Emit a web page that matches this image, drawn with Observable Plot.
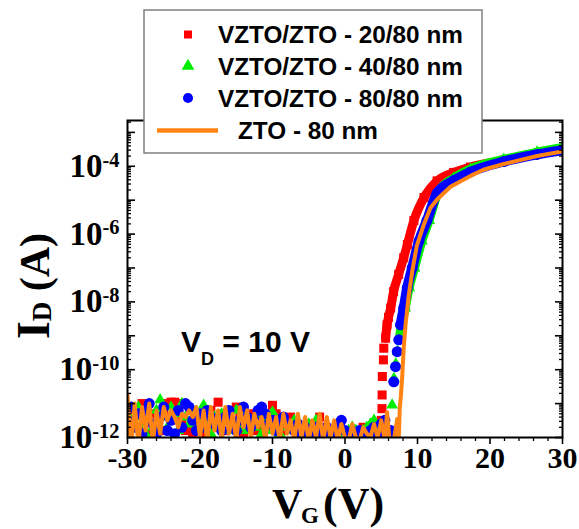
<!DOCTYPE html>
<html><head><meta charset="utf-8">
<script src="https://cdn.jsdelivr.net/npm/d3@7"></script>
<script src="https://cdn.jsdelivr.net/npm/@observablehq/plot@0.6"></script>
<style>body{margin:0;background:#fff} #c{position:relative;width:579px;height:529px;overflow:hidden}</style>
</head><body><div id="c"></div><script>
// Gate voltage sweep (off-state region), V
const vgOff = [-30,-29.5,-29,-28.5,-28,-27.5,-27,-26.5,-26,-25.5,-25,-24.5,-24,-23.5,-23,-22.5,-22,-21.5,-21,-20.5,-20,-19.5,-19,-18.5,-18,-17.5,-17,-16.5,-16,-15.5,-15,-14.5,-14,-13.5,-13,-12.5,-12,-11.5,-11,-10.5,-10,-9.5,-9,-8.5,-8,-7.5,-7,-6.5,-6,-5.5,-5,-4.5,-4,-3.5,-3,-2.5,-2,-1.5,-1,-0.5,0,0.5,1,1.5,2,2.5,3,3.5,4,4.5,5];

// VZTO/ZTO - 20/80 nm (red squares)
const redOff = [1.6e-12,3.2e-12,6.3e-12,2.0e-12,1.0e-11,4.0e-12,1.3e-12,5.0e-12,2.5e-12,1.6e-12,
  6.3e-12,1.0e-11,1.1e-11,1.1e-11,1.0e-11,3.2e-12,1.6e-12,2.0e-12,1.3e-12,5.0e-12,
  2.5e-12,1.3e-12,4.0e-12,6.3e-12,2.0e-12,1.1e-11,5.0e-12,1.6e-12,3.2e-12,2.0e-12,
  7.9e-12,4.0e-12,1.3e-12,2.5e-12,5.0e-12,1.6e-12,3.2e-12,2.0e-12,4.0e-12,2.5e-12,
  8.9e-12,5.0e-12,2.0e-12,1.6e-12,3.2e-12,4.0e-12,2.5e-12,2.0e-12,1.3e-12,2.0e-12,
  2.5e-12,1.6e-12,2.5e-12,4.0e-12,2.0e-12,1.3e-12,1.6e-12,1.3e-12,2.5e-12,1.6e-12,
  1.3e-12,1.0e-12,1.6e-12,1.3e-12,1.6e-12,2.0e-12,1.3e-12,1.6e-12,2.0e-12,2.5e-12,3.2e-12];
const redOnV = [5.1,5.12,5.15,5.3,5.35,5.6,5.8,6.0,6.3,6.7,7.4,8.1,8.6,9.5,10.9,12.7,15,17.3,21.9,26.5,30];
const redOnI = [7.1e-12,1.8e-11,6.3e-11,1.95e-10,4.3e-10,8.5e-10,2.1e-9,3.5e-9,6.6e-9,2.0e-8,6.5e-8,2.0e-7,4.9e-7,2.5e-6,1.2e-5,3.7e-5,6.6e-5,9.5e-5,1.5e-4,2.3e-4,3.15e-4];

// VZTO/ZTO - 40/80 nm (green triangles)
const greenOff = [5.0e-12,2.0e-12,4.0e-12,7.9e-12,2.5e-12,1.3e-12,3.2e-12,2.0e-12,6.3e-12,1.3e-11,
  4.0e-12,2.0e-12,7.9e-12,5.0e-12,1.6e-12,1.0e-11,4.0e-12,2.5e-12,6.3e-12,2.0e-12,
  3.2e-12,8.9e-12,2.5e-12,1.3e-12,4.0e-12,2.0e-12,5.0e-12,3.2e-12,1.6e-12,2.5e-12,
  6.3e-12,2.0e-12,4.0e-12,1.6e-12,3.2e-12,2.0e-12,5.0e-12,1.3e-12,2.5e-12,1.6e-12,
  5.6e-12,2.5e-12,1.3e-12,3.2e-12,2.0e-12,1.6e-12,3.2e-12,1.3e-12,2.0e-12,1.6e-12,
  2.5e-12,1.3e-12,3.2e-12,2.0e-12,1.3e-12,1.6e-12,1.3e-12,2.0e-12,1.3e-12,1.6e-12,
  1.3e-12,1.6e-12,2.0e-12,1.6e-12,1.3e-12,1.6e-12,2.0e-12,2.5e-12,3.2e-12,2.0e-12,1.6e-12];
const greenOnV = [5.5,6,6.5,6.75,7.0,7.25,7.5,7.8,8.3,8.85,9.6,10.6,11.6,12.9,15,17.3,21.9,26.5,30];
const greenOnI = [2.0e-12,1.6e-12,9.1e-12,5.5e-11,1.5e-10,3.4e-10,8.5e-10,2.1e-9,6.6e-9,2.6e-8,1.0e-7,6.2e-7,2.5e-6,1.8e-5,4.5e-5,8.3e-5,1.6e-4,2.6e-4,3.6e-4];

// VZTO/ZTO - 80/80 nm (blue circles)
const blueOff = [3.2e-12,7.9e-12,2.0e-12,5.0e-12,1.3e-12,6.3e-12,1.0e-11,2.5e-12,1.3e-12,4.0e-12,
  7.9e-12,1.6e-12,3.2e-12,1.3e-12,6.3e-12,2.0e-12,1.0e-11,7.9e-12,3.2e-12,1.6e-12,
  5.0e-12,2.0e-12,6.3e-12,4.0e-12,2.5e-12,3.2e-12,1.6e-12,4.0e-12,6.3e-12,2.5e-12,
  1.6e-12,3.2e-12,7.9e-12,4.0e-12,2.0e-12,3.2e-12,6.3e-12,7.9e-12,5.0e-12,2.5e-12,
  3.2e-12,1.6e-12,2.5e-12,4.0e-12,2.5e-12,2.0e-12,1.6e-12,2.5e-12,1.3e-12,2.0e-12,
  1.6e-12,1.3e-12,2.0e-12,1.6e-12,1.3e-12,2.0e-12,1.6e-12,1.3e-12,2.5e-12,3.2e-12,
  1.6e-12,1.3e-12,1.0e-12,1.3e-12,1.6e-12,1.3e-12,1.0e-12,1.6e-12,2.0e-12,1.3e-12,2.5e-12];
const blueOnV = [5.5,6.0,6.3,6.73,6.97,7.2,7.42,7.66,8.1,8.58,9.27,10.2,11.3,12.7,15,17.3,21.9,26.5,30];
const blueOnI = [3.2e-12,1.3e-12,1.6e-12,4.4e-11,1.23e-10,3.4e-10,7.6e-10,2.1e-9,6.6e-9,2.6e-8,1.0e-7,6.2e-7,2.5e-6,1.6e-5,3.8e-5,6.8e-5,1.38e-4,2.24e-4,3.0e-4];

// ZTO - 80 nm (orange line)
const orangeOff = [1.8e-11,5e-13,1.0e-11,6e-13,8.0e-12,1.6e-12,1.0e-11,7e-13,6.3e-12,1.3e-12,
  7.9e-12,3.2e-12,6.3e-12,4.0e-12,2.0e-12,5.0e-12,4.0e-12,6.3e-12,4.0e-12,7.9e-12,
  1.0e-12,6.3e-12,7e-13,7.9e-12,1.6e-12,6.3e-12,8e-13,7.9e-12,1.3e-12,5.0e-12,
  8e-13,7.9e-12,2.0e-12,6.3e-12,1.0e-12,5.0e-12,2.0e-12,4.0e-12,8e-13,5.0e-12,
  1.3e-12,4.0e-12,8e-13,5.0e-12,1.3e-12,3.2e-12,8e-13,5.0e-12,1.0e-12,4.0e-12,
  8e-13,3.2e-12,1.0e-12,5.0e-12,8e-13,4.0e-12,1.0e-12,3.2e-12,8e-13,2.5e-12,
  1.0e-12,8e-13,2.5e-12,1.0e-12,8e-13,2.0e-12,1.3e-12,1.0e-12,2.5e-12,1.0e-12,3.2e-12];
const orangeOnV = [5.5,5.8,6.2,6.8,7.2,7.4,7.55,7.7,7.9,8.1,8.35,8.8,9.27,9.9,10.9,11.8,12.7,14.55,17.3,19.1,21.9,26.5,30];
const orangeOnI = [8e-13,5.6e-12,6e-13,1.0e-12,3.5e-12,6e-13,7.1e-12,1.6e-11,6.9e-11,4.3e-10,2.1e-9,1.6e-8,7.9e-8,4.5e-7,2.0e-6,6.0e-6,1.05e-5,2.5e-5,5.2e-5,7.9e-5,1.17e-4,2.0e-4,2.75e-4];

const seriesNames = ["VZTO/ZTO - 20/80 nm","VZTO/ZTO - 40/80 nm","VZTO/ZTO - 80/80 nm","ZTO - 80 nm"];
const colors = ["#ff0000","#00ee00","#0000ff","#ff8413"];

// axis ticks
const xMajor = [-30,-20,-10,0,10,20,30];
const xMinor = [-28,-26,-24,-22,-18,-16,-14,-12,-8,-6,-4,-2,2,4,6,8,12,14,16,18,22,24,26,28];
const yLabels = [1e-12,1e-10,1e-8,1e-6,1e-4];
const yDecades = [1e-12,1e-11,1e-10,1e-9,1e-8,1e-7,1e-6,1e-5,1e-4,1e-3];
const yMinor = yDecades.flatMap(d => [2,3,4,5,6,7,8,9].map(m => m*d)).filter(v => v < 2.2e-3);

const pts = (v, i) => v.map((x, k) => ({v: x, i: i[k]}));
const red = pts(vgOff, redOff).concat(pts(redOnV, redOnI));
const green = pts(vgOff, greenOff).concat(pts(greenOnV, greenOnI));
const blue = pts(vgOff, blueOff).concat(pts(blueOnV, blueOnI));
const orange = pts(vgOff, orangeOff).concat(pts(orangeOnV, orangeOnI));
const band = d => d.v > 5 && d.i >= 8e-10;

const serif = "Liberation Serif, Times New Roman, serif";
const sans = "Liberation Sans, Arial, sans-serif";

const chart = Plot.plot({
  width: 579, height: 529,
  marginLeft: 127, marginRight: 17, marginTop: 120, marginBottom: 92,
  style: {background: "white", color: "black"},
  x: {domain: [-30, 30]},
  y: {type: "log", domain: [1e-12, 2.24e-3]},
  marks: [
    Plot.line(red.filter(band), {x: "v", y: "i", stroke: colors[0], strokeWidth: 9, curve: "monotone-x", clip: true}),
    Plot.dot(red, {x: "v", y: "i", symbol: "square", r: 5.1, fill: colors[0], clip: true}),
    Plot.line(green.filter(band), {x: "v", y: "i", stroke: colors[1], strokeWidth: 9, curve: "monotone-x", clip: true}),
    Plot.dot(green, {x: "v", y: "i", symbol: "triangle", r: 4.4, fill: colors[1], clip: true}),
    Plot.line(blue.filter(band), {x: "v", y: "i", stroke: colors[2], strokeWidth: 10, curve: "monotone-x", clip: true}),
    Plot.dot(blue, {x: "v", y: "i", symbol: "circle", r: 5.5, fill: colors[2], clip: true}),
    Plot.line(orange, {x: "v", y: "i", stroke: colors[3], strokeWidth: 4, clip: true}),
    Plot.frame({stroke: "black", strokeWidth: 2}),
    Plot.axisY({anchor: "left", ticks: yDecades, tickSize: 8, dx: 8, fill: "none", label: null, strokeWidth: 1.6}),
    Plot.axisY({anchor: "left", ticks: yMinor, tickSize: 4, dx: 4, fill: "none", label: null, strokeWidth: 1.3}),
    Plot.axisY({anchor: "right", ticks: yDecades, tickSize: 8, dx: -8, fill: "none", label: null, strokeWidth: 1.6}),
    Plot.axisY({anchor: "right", ticks: yMinor, tickSize: 4, dx: -4, fill: "none", label: null, strokeWidth: 1.3}),
    Plot.axisY({anchor: "left", ticks: yLabels, tickSize: 0, tickPadding: 8, label: null,
      tickFormat: d => "10^" + Math.round(Math.log10(d)),
      fontFamily: serif, fontWeight: "bold", fontSize: 33}),
    Plot.axisX({anchor: "bottom", ticks: xMajor, tickSize: 7, fill: "none", label: null, strokeWidth: 1.6}),
    Plot.axisX({anchor: "bottom", ticks: xMinor, tickSize: 4, fill: "none", label: null, strokeWidth: 1.3}),
    Plot.axisX({anchor: "bottom", ticks: xMajor, tickSize: 0, tickPadding: 9, label: null,
      tickFormat: d => String(d), fontFamily: serif, fontWeight: "bold", fontSize: 30})
  ]
});

const svg = d3.select(chart);
// superscripts on the y tick labels
svg.selectAll('g[aria-label="y-axis tick label"] text').each(function() {
  const [b, e] = this.textContent.split("^");
  this.textContent = "";
  const t = d3.select(this);
  t.append("tspan").text(b);
  t.append("tspan").attr("dy", "-0.5em").attr("font-size", "0.62em").text(e);
});

// axis titles
const xt = svg.append("g").attr("font-family", serif).attr("font-weight", "bold").attr("fill", "black").attr("text-anchor", "start");
xt.append("text").attr("x", 272).attr("y", 518).attr("font-size", 42).text("V");
xt.append("text").attr("x", 301).attr("y", 523).attr("font-size", 23).text("G");
xt.append("text").attr("x", 323).attr("y", 518).attr("font-size", 44).text("(V)");

const yt = svg.append("text").attr("transform", "translate(49,286) rotate(-90)")
  .attr("text-anchor", "middle").attr("font-family", serif).attr("font-weight", "bold").attr("fill", "black");
yt.append("tspan").attr("font-size", 46).text("I");
yt.append("tspan").attr("font-size", 27).attr("dy", 2).text("D");
yt.append("tspan").attr("font-size", 42).attr("dy", -2).text(" (A)");

// annotation
const an = svg.append("text").attr("x", 181).attr("y", 352).attr("text-anchor", "start").attr("font-family", sans).attr("font-weight", "bold").attr("fill", "black");
an.append("tspan").attr("font-size", 30).text("V");
an.append("tspan").attr("font-size", 18).attr("dy", 13).text("D");
an.append("tspan").attr("font-size", 30).attr("dy", -13).text(" = 10 V");

// legend
const lg = svg.append("g");
lg.append("rect").attr("x", 144).attr("y", 10).attr("width", 338).attr("height", 143)
  .attr("fill", "white").attr("stroke", "#808080").attr("stroke-width", 1.5);
const rowsY = [34.5, 66, 98, 130.5];
const sym = [d3.symbolSquare, d3.symbolTriangle, d3.symbolCircle];
const symSize = [64, 70, 80];
for (let k = 0; k < 3; k++) {
  lg.append("path").attr("d", d3.symbol(sym[k], symSize[k])())
    .attr("transform", `translate(188,${rowsY[k]})`).attr("fill", colors[k]);
}
lg.append("line").attr("x1", 157).attr("x2", 218).attr("y1", rowsY[3]).attr("y2", rowsY[3])
  .attr("stroke", colors[3]).attr("stroke-width", 4.5);
seriesNames.forEach((s, k) => {
  lg.append("text").attr("x", k < 3 ? 218 : 238).attr("y", rowsY[k]).attr("dy", "0.36em").attr("text-anchor", "start")
    .attr("font-family", sans).attr("font-weight", "bold").attr("font-size", 24.3).attr("fill", "black").text(s);
});

document.getElementById("c").appendChild(chart);
</script></body></html>
